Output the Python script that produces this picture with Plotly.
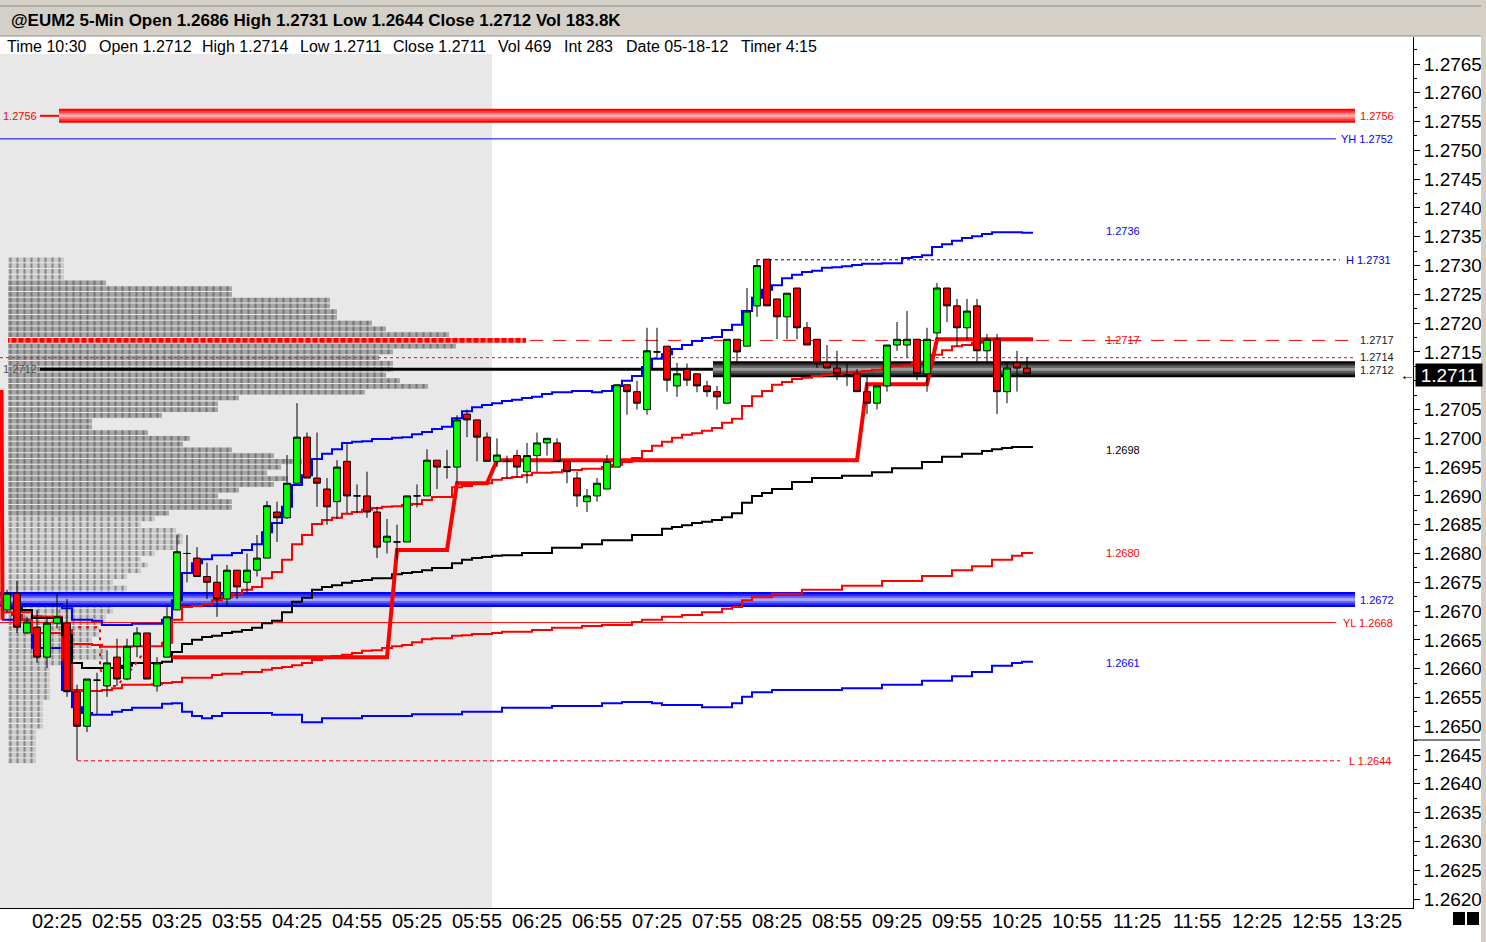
import datetime as dt

import plotly.graph_objects as go

# 5-min bars of @EUM2, 2012-05-18, first bar at 02:00
SESSION_START = dt.datetime(2012, 5, 18, 2, 0)
BAR_MIN = 5

opens = [1.26702, 1.26731, 1.26662, 1.26672, 1.26620, 1.26679, 1.26679, 1.26560, 1.26500, 1.26580,
         1.26570, 1.26620, 1.26582, 1.26639, 1.26662, 1.26570, 1.26620, 1.26702, 1.26800, 1.26792,
         1.26760, 1.26750, 1.26721, 1.26771, 1.26750, 1.26771, 1.26792, 1.26872, 1.26862, 1.26922,
         1.27002, 1.26931, 1.26912, 1.26890, 1.26960, 1.26900, 1.26900, 1.26872, 1.26820, 1.26820,
         1.26820, 1.26900, 1.26900, 1.26962, 1.26950, 1.26950, 1.27042, 1.27032, 1.27002, 1.26960,
         1.26960, 1.26970, 1.26942, 1.26970, 1.26992, 1.26992, 1.26960, 1.26931, 1.26890, 1.26900,
         1.26912, 1.26950, 1.27093, 1.27081, 1.27050, 1.27150, 1.27160, 1.27091, 1.27120, 1.27112,
         1.27091, 1.27081, 1.27061, 1.27172, 1.27160, 1.27230, 1.27311, 1.27242, 1.27211, 1.27261,
         1.27192, 1.27172, 1.27131, 1.27122, 1.27110, 1.27112, 1.27081, 1.27061, 1.27091, 1.27162,
         1.27162, 1.27172, 1.27112, 1.27183, 1.27261, 1.27230, 1.27192, 1.27230, 1.27152, 1.27172,
         1.27081, 1.27131, 1.27122]
highs = [1.26737, 1.26752, 1.26690, 1.26702, 1.26690, 1.26731, 1.26721, 1.26572, 1.26582, 1.26593,
         1.26632, 1.26652, 1.26652, 1.26672, 1.26662, 1.26620, 1.26711, 1.26832, 1.26832, 1.26811,
         1.26784, 1.26780, 1.26780, 1.26771, 1.26800, 1.26832, 1.26891, 1.26890, 1.26971, 1.27061,
         1.27010, 1.27010, 1.26931, 1.26962, 1.26992, 1.26920, 1.26942, 1.26881, 1.26860, 1.26850,
         1.26900, 1.26920, 1.26981, 1.26962, 1.26980, 1.27040, 1.27050, 1.27032, 1.27010, 1.27000,
         1.26970, 1.26980, 1.26992, 1.27010, 1.27000, 1.27000, 1.26960, 1.26942, 1.26912, 1.26931,
         1.26971, 1.27093, 1.27093, 1.27100, 1.27192, 1.27192, 1.27160, 1.27131, 1.27130, 1.27112,
         1.27100, 1.27091, 1.27172, 1.27172, 1.27261, 1.27311, 1.27311, 1.27242, 1.27252, 1.27261,
         1.27202, 1.27172, 1.27162, 1.27152, 1.27130, 1.27120, 1.27110, 1.27091, 1.27162, 1.27202,
         1.27221, 1.27172, 1.27192, 1.27270, 1.27261, 1.27242, 1.27242, 1.27242, 1.27181, 1.27181,
         1.27131, 1.27152, 1.27141]
lows = [1.26698, 1.26662, 1.26660, 1.26610, 1.26601, 1.26670, 1.26551, 1.26441, 1.26490, 1.26520,
        1.26551, 1.26570, 1.26580, 1.26620, 1.26582, 1.26560, 1.26620, 1.26702, 1.26750, 1.26760,
        1.26721, 1.26690, 1.26710, 1.26721, 1.26730, 1.26760, 1.26792, 1.26820, 1.26860, 1.26922,
        1.26931, 1.26881, 1.26850, 1.26860, 1.26870, 1.26870, 1.26862, 1.26792, 1.26800, 1.26790,
        1.26820, 1.26880, 1.26900, 1.26912, 1.26930, 1.26922, 1.27002, 1.26960, 1.26960, 1.26950,
        1.26930, 1.26932, 1.26922, 1.26942, 1.26970, 1.26960, 1.26922, 1.26881, 1.26872, 1.26890,
        1.26912, 1.26950, 1.27041, 1.27050, 1.27041, 1.27140, 1.27081, 1.27072, 1.27091, 1.27080,
        1.27072, 1.27050, 1.27061, 1.27132, 1.27160, 1.27211, 1.27230, 1.27172, 1.27172, 1.27172,
        1.27162, 1.27122, 1.27122, 1.27101, 1.27091, 1.27081, 1.27042, 1.27050, 1.27081, 1.27152,
        1.27141, 1.27101, 1.27081, 1.27172, 1.27202, 1.27160, 1.27172, 1.27131, 1.27131, 1.27042,
        1.27061, 1.27081, 1.27112]
closes = [1.26731, 1.26672, 1.26681, 1.26620, 1.26679, 1.26690, 1.26560, 1.26500, 1.26582, 1.26580,
          1.26610, 1.26582, 1.26639, 1.26662, 1.26582, 1.26610, 1.26690, 1.26803, 1.26800, 1.26760,
          1.26750, 1.26721, 1.26771, 1.26742, 1.26771, 1.26792, 1.26883, 1.26862, 1.26922, 1.27002,
          1.26931, 1.26922, 1.26881, 1.26950, 1.26900, 1.26900, 1.26872, 1.26811, 1.26830, 1.26820,
          1.26900, 1.26900, 1.26962, 1.26950, 1.26950, 1.27032, 1.27032, 1.27002, 1.26960, 1.26971,
          1.26960, 1.26950, 1.26970, 1.26992, 1.27000, 1.26960, 1.26942, 1.26900, 1.26900, 1.26922,
          1.26960, 1.27093, 1.27081, 1.27061, 1.27152, 1.27150, 1.27101, 1.27112, 1.27101, 1.27091,
          1.27081, 1.27072, 1.27172, 1.27150, 1.27221, 1.27300, 1.27230, 1.27211, 1.27252, 1.27192,
          1.27162, 1.27131, 1.27122, 1.27112, 1.27110, 1.27081, 1.27061, 1.27091, 1.27162, 1.27172,
          1.27172, 1.27112, 1.27172, 1.27261, 1.27230, 1.27192, 1.27221, 1.27152, 1.27172, 1.27081,
          1.27122, 1.27122, 1.27112]

# VWAP and its deviation bands (bar index where the step changes, value)
upper2_bars = [0, 2, 6, 7, 9, 10, 13, 16, 17, 18, 19, 20, 21, 23, 24, 25, 26, 27, 28, 29,
               30, 31, 32, 33, 34, 35, 36, 37, 39, 40, 41, 42, 43, 44, 45, 46, 47, 48, 49, 50,
               51, 52, 53, 54, 55, 57, 59, 60, 61, 62, 63, 64, 65, 66, 67, 68, 69, 70, 71, 72,
               73, 74, 75, 76, 77, 78, 79, 80, 81, 82, 83, 84, 85, 86, 88, 90, 91, 92, 93, 94,
               95, 96, 97, 98, 99, 102]
upper2_vals = [1.26709, 1.26712, 1.26705, 1.26685, 1.26683, 1.26676, 1.26678, 1.26685, 1.26719, 1.26766,
               1.26783, 1.26790, 1.26797, 1.26801, 1.26806, 1.26816, 1.26837, 1.26853, 1.26881, 1.26919,
               1.26936, 1.26964, 1.26973, 1.26981, 1.26992, 1.26994, 1.26995, 1.26999, 1.27001, 1.27002,
               1.27007, 1.27011, 1.27016, 1.27020, 1.27035, 1.27047, 1.27054, 1.27058, 1.27061, 1.27065,
               1.27067, 1.27070, 1.27072, 1.27077, 1.27080, 1.27082, 1.27080, 1.27082, 1.27091, 1.27100,
               1.27108, 1.27124, 1.27138, 1.27146, 1.27155, 1.27162, 1.27169, 1.27174, 1.27176, 1.27188,
               1.27197, 1.27221, 1.27244, 1.27258, 1.27266, 1.27278, 1.27284, 1.27289, 1.27291, 1.27296,
               1.27297, 1.27299, 1.27301, 1.27303, 1.27304, 1.27313, 1.27315, 1.27318, 1.27332, 1.27337,
               1.27343, 1.27348, 1.27351, 1.27355, 1.27358, 1.27357]

upper1_bars = [0, 2, 3, 4, 6, 7, 9, 10, 13, 16, 17, 18, 19, 20, 21, 22, 23, 24, 25, 26,
               27, 28, 29, 30, 31, 32, 33, 34, 35, 36, 37, 38, 39, 40, 41, 42, 43, 45, 46, 47,
               49, 50, 51, 52, 53, 55, 56, 58, 60, 61, 62, 63, 64, 65, 66, 67, 68, 69, 70, 71,
               72, 73, 74, 75, 76, 77, 78, 79, 80, 81, 82, 83, 84, 85, 86, 87, 88, 89, 90, 91,
               92, 93, 94, 95, 96, 97, 98, 99]
upper1_vals = [1.26705, 1.26698, 1.26691, 1.26690, 1.26667, 1.26643, 1.26641, 1.26638, 1.26639, 1.26645,
               1.26685, 1.26707, 1.26709, 1.26712, 1.26719, 1.26724, 1.26730, 1.26737, 1.26742, 1.26757,
               1.26768, 1.26789, 1.26816, 1.26832, 1.26851, 1.26858, 1.26862, 1.26869, 1.26872, 1.26876,
               1.26879, 1.26881, 1.26882, 1.26884, 1.26886, 1.26893, 1.26898, 1.26915, 1.26917, 1.26922,
               1.26928, 1.26931, 1.26933, 1.26936, 1.26940, 1.26941, 1.26945, 1.26947, 1.26950, 1.26954,
               1.26959, 1.26966, 1.26978, 1.26987, 1.26994, 1.27001, 1.27006, 1.27009, 1.27013, 1.27018,
               1.27027, 1.27034, 1.27056, 1.27073, 1.27082, 1.27093, 1.27098, 1.27103, 1.27105, 1.27108,
               1.27110, 1.27112, 1.27113, 1.27115, 1.27117, 1.27119, 1.27124, 1.27126, 1.27127, 1.27131,
               1.27133, 1.27145, 1.27153, 1.27160, 1.27162, 1.27166, 1.27171, 1.27172]

vwap_bars = [0, 2, 3, 6, 7, 8, 12, 13, 16, 17, 18, 19, 20, 21, 22, 23, 24, 25, 26, 27,
             28, 29, 30, 31, 32, 33, 34, 35, 36, 37, 39, 40, 41, 42, 43, 45, 46, 47, 48, 49,
             50, 52, 55, 58, 60, 63, 66, 67, 68, 69, 70, 71, 72, 73, 74, 75, 76, 77, 79, 81,
             84, 87, 89, 92, 94, 96, 98, 99, 100, 101]
vwap_vals = [1.26705, 1.26702, 1.26688, 1.26658, 1.26610, 1.26601, 1.26605, 1.26610, 1.26612, 1.26629,
             1.26643, 1.26650, 1.26655, 1.26657, 1.26662, 1.26664, 1.26667, 1.26671, 1.26679, 1.26683,
             1.26698, 1.26716, 1.26723, 1.26737, 1.26742, 1.26745, 1.26749, 1.26752, 1.26754, 1.26757,
             1.26764, 1.26766, 1.26768, 1.26771, 1.26775, 1.26783, 1.26789, 1.26792, 1.26794, 1.26796,
             1.26797, 1.26801, 1.26810, 1.26816, 1.26823, 1.26832, 1.26843, 1.26846, 1.26849, 1.26853,
             1.26855, 1.26858, 1.26863, 1.26870, 1.26888, 1.26900, 1.26905, 1.26912, 1.26924, 1.26931,
             1.26935, 1.26941, 1.26948, 1.26959, 1.26968, 1.26973, 1.26978, 1.26981, 1.26983, 1.26985]

lower1_bars = [0, 1, 2, 3, 6, 7, 8, 10, 11, 12, 15, 16, 17, 18, 21, 22, 24, 26, 27, 28,
               29, 30, 31, 32, 33, 34, 35, 36, 37, 38, 39, 40, 41, 42, 43, 45, 46, 47, 49, 50,
               53, 55, 58, 60, 63, 64, 66, 68, 70, 72, 73, 74, 75, 77, 80, 84, 88, 92, 95, 97,
               99, 101, 102]
lower1_vals = [1.26698, 1.26693, 1.26685, 1.26662, 1.26615, 1.26563, 1.26561, 1.26563, 1.26566, 1.26572,
               1.26573, 1.26575, 1.26577, 1.26584, 1.26589, 1.26591, 1.26594, 1.26598, 1.26601, 1.26603,
               1.26606, 1.26610, 1.26615, 1.26619, 1.26622, 1.26624, 1.26627, 1.26631, 1.26632, 1.26636,
               1.26639, 1.26641, 1.26646, 1.26651, 1.26653, 1.26657, 1.26658, 1.26660, 1.26662, 1.26664,
               1.26667, 1.26671, 1.26674, 1.26676, 1.26681, 1.26685, 1.26690, 1.26693, 1.26698, 1.26704,
               1.26707, 1.26719, 1.26724, 1.26730, 1.26737, 1.26744, 1.26752, 1.26761, 1.26771, 1.26778,
               1.26789, 1.26796, 1.26801]

lower2_bars = [0, 3, 6, 7, 8, 9, 11, 12, 13, 16, 17, 18, 19, 20, 21, 22, 27, 30, 32, 36,
               41, 46, 50, 55, 60, 62, 65, 66, 70, 73, 74, 75, 77, 84, 88, 92, 95, 97, 99, 101,
               102]
lower2_vals = [1.26685, 1.26636, 1.26563, 1.26533, 1.26523, 1.26520, 1.26525, 1.26528, 1.26532, 1.26539,
               1.26540, 1.26525, 1.26518, 1.26514, 1.26518, 1.26523, 1.26520, 1.26507, 1.26514, 1.26518,
               1.26521, 1.26525, 1.26532, 1.26535, 1.26540, 1.26542, 1.26540, 1.26537, 1.26533, 1.26540,
               1.26551, 1.26559, 1.26563, 1.26566, 1.26572, 1.26579, 1.26587, 1.26594, 1.26605, 1.26610,
               1.26612]

# thick red trailing stop (None = gap)
trail_bars = [-0.55, -0.45, None, 16.5, 38, 39, 44, 45, 48, 49, 85, 86, 92, 93, 102.6]
trail_vals = [1.27084, 1.26685, None, 1.26620, 1.26620, 1.26806, 1.26806, 1.26922, 1.26922,
              1.26962, 1.26962, 1.27094, 1.27094, 1.27172, 1.27172]

# early dotted red projection
dotted_bars = [7.1, 9.3, 9.3, 10.0, 11.0, 12.5, 13.5, 14.5]
dotted_vals = [1.26672, 1.26672, 1.26601, 1.26570, 1.26570, 1.26600, 1.26624, 1.26624]

# volume profile: one row per pip from 1.2731 down to 1.2644 (row length in cells)
profile_top = 1.2731
profile_cells = [8, 8, 8, 8, 14, 32, 32, 46, 46, 47,
                 47, 52, 54, 63, 74, 64, 55, 53, 55, 55,
                 54, 56, 60, 51, 33, 30, 30, 22, 12, 12,
                 20, 26, 25, 32, 38, 42, 39, 37, 40, 38,
                 33, 30, 32, 32, 23, 21, 19, 24, 25, 25,
                 24, 21, 19, 20, 19, 17, 15, 17, 17, 15,
                 15, 15, 14, 14, 13, 13, 12, 12, 14, 14,
                 8, 6, 6, 6, 6, 6, 6, 5, 5, 5,
                 5, 5, 4, 4, 4, 4, 4, 4]
va_high, va_low, poc = 1.2727, 1.2687, 1.2717

# horizontal levels
r_level = 1.2756
yest_high = 1.2752
day_high = 1.2731
level_1714 = 1.2714
level_1712 = 1.2712
s_level = 1.2672
yest_low = 1.2668
day_low = 1.2644
last_price = 1.2711
band_end_labels = [(1.2736, "#0000ff"), (1.2717, "#ff0000"), (1.2698, "#000000"),
                   (1.2680, "#ff0000"), (1.2661, "#0000ff")]

price_ticks = [1.2620, 1.2625, 1.2630, 1.2635, 1.2640, 1.2645, 1.2650, 1.2655, 1.2660, 1.2665,
               1.2670, 1.2675, 1.2680, 1.2685, 1.2690, 1.2695, 1.2700, 1.2705, 1.2710, 1.2715,
               1.2720, 1.2725, 1.2730, 1.2735, 1.2740, 1.2745, 1.2750, 1.2755, 1.2760, 1.2765]

# page geometry (pixels)
W, H = 1486, 942
PLOT_W, PLOT_TOP, PLOT_BOTTOM = 1413, 37, 908
PLOT_H = PLOT_BOTTOM - PLOT_TOP
SEC_PER_PX = 30  # 10 px per 5-min bar
CELL_PX = 7
FONT = "Liberation Sans, Arial, sans-serif"
SHADE = "#e8e8e8"
Y_RANGE = [1.2620 - 9 * 0.0145 / 835, 1.2765 + 27 * 0.0145 / 835]


def bar_time(b):
    if b is None:
        return None
    return SESSION_START + dt.timedelta(minutes=BAR_MIN * b)


def px_time(px):
    # bar centres sit at x = 7 + 10 * i on the page
    return bar_time((px - 7) / 10)


def pxx(px):
    return px / PLOT_W


def pxy(py):
    return (PLOT_BOTTOM - py) / PLOT_H


times = [bar_time(i) for i in range(len(opens))]
last_bar = len(opens) - 1

fig = go.Figure()

# volume profile rows made of small cells, drawn as horizontal bars on the time axis
profile_prices = [round(profile_top - 0.0001 * k, 4) for k in range(len(profile_cells))]
row_colors = []
for p in profile_prices:
    if abs(p - poc) < 1e-6:
        row_colors.append("#ff0000")
    elif va_low - 1e-6 <= p <= va_high + 1e-6:
        row_colors.append("#a6a6a6")
    else:
        row_colors.append("#cbcbcb")
fig.add_trace(go.Bar(
    x=[c * CELL_PX * SEC_PER_PX * 1000 for c in profile_cells], y=profile_prices,
    base=[px_time(8)] * len(profile_cells), orientation="h",
    width=0.000082,
    marker=dict(color=row_colors, line=dict(width=0),
                pattern=dict(shape="|", fillmode="overlay", fgcolor=SHADE, size=CELL_PX,
                             solidity=0.3)),
    hoverinfo="skip", showlegend=False,
))


def hline(level, px0, px1, color, width, dash=None):
    fig.add_trace(go.Scatter(
        x=[px_time(px0), px_time(px1)], y=[level, level], mode="lines",
        line=dict(color=color, width=width, dash=dash),
        hoverinfo="skip", showlegend=False,
    ))


def band(level, px0, px1, layers):
    for color, width in layers:
        hline(level, px0, px1, color, width)


band(s_level, 0, 1355, [("#0000ff", 15), ("#2a2aff", 11), ("#6262ff", 7), ("#a4a4ff", 3)])
band(r_level, 59, 1355, [("#ff0000", 14), ("#ff3c3c", 10), ("#ff7c7c", 6), ("#ffb4b4", 2)])
hline(r_level, 40, 59, "#ff0000", 2)
hline(yest_high, 0, 1336, "#0000ff", 1)
hline(yest_low, 0, 1336, "#ff0000", 1)
hline(day_high, 757, 1340, "#0000c0", 1, "3px,3px")
hline(day_low, 77, 1340, "#ff0000", 1, "4px,3px")
hline(poc, 530, 1355, "#ff0000", 1, "13px,10px")
hline(level_1714, 0, 1355, "#ff0000", 1, "3px,3px")
hline(level_1712, 40, 713, "#000000", 3)
band(level_1712, 713, 1355, [("#000000", 16), ("#2c2c2c", 12), ("#5e5e5e", 8), ("#9c9c9c", 3)])


def step_line(bars, vals, color, width):
    assert len(bars) == len(vals)
    xs = [bar_time(b - 0.5) for b in bars] + [bar_time(last_bar + 0.6)]
    ys = list(vals) + [vals[-1]]
    fig.add_trace(go.Scatter(
        x=xs, y=ys, mode="lines", line=dict(color=color, width=width, shape="hv"),
        hoverinfo="skip", showlegend=False,
    ))


step_line(lower2_bars, lower2_vals, "#0000ff", 2)
step_line(upper2_bars, upper2_vals, "#0000ff", 2)
step_line(lower1_bars, lower1_vals, "#ff0000", 2)
step_line(upper1_bars, upper1_vals, "#ff0000", 2)
step_line(vwap_bars, vwap_vals, "#000000", 2)

fig.add_trace(go.Scatter(
    x=[bar_time(b) for b in dotted_bars], y=dotted_vals, mode="lines",
    line=dict(color="#ff0000", width=2, dash="3px,5px"), hoverinfo="skip", showlegend=False,
))
fig.add_trace(go.Scatter(
    x=[bar_time(b) for b in trail_bars], y=trail_vals, mode="lines",
    line=dict(color="#ff0000", width=4), connectgaps=False, hoverinfo="skip", showlegend=False,
))

# candles sit on an overlaid copy of the price axis so they are drawn above the lines
fig.add_trace(go.Candlestick(
    x=times, open=opens, high=highs, low=lows, close=closes, yaxis="y2",
    increasing=dict(fillcolor="#00ff00", line=dict(color="#000000", width=1)),
    decreasing=dict(fillcolor="#ff0000", line=dict(color="#000000", width=1)),
    whiskerwidth=0, hoverinfo="skip", showlegend=False,
))

# ---- frame pieces: title bar, session shading, window edge ----
shapes = [
    dict(type="rect", xref="paper", yref="paper", x0=pxx(0), x1=pxx(492), y0=pxy(908), y1=pxy(54),
         fillcolor=SHADE, line=dict(width=0), layer="below"),
    dict(type="rect", xref="paper", yref="paper", x0=pxx(0), x1=pxx(1481), y0=pxy(36), y1=pxy(0),
         fillcolor="#d4d0c8", line=dict(width=0)),
    dict(type="line", xref="paper", yref="paper", x0=pxx(0), x1=pxx(1481), y0=pxy(6), y1=pxy(6),
         line=dict(color="#8a8a8a", width=1)),
    dict(type="line", xref="paper", yref="paper", x0=pxx(0), x1=pxx(1481), y0=pxy(36), y1=pxy(36),
         line=dict(color="#8a8a8a", width=1)),
    dict(type="rect", xref="paper", yref="paper", x0=pxx(1481), x1=pxx(1486), y0=pxy(942), y1=pxy(0),
         fillcolor="#d4d0c8", line=dict(width=0)),
    dict(type="line", xref="paper", yref="paper", x0=pxx(1413), x1=pxx(1480), y0=pxy(740), y1=pxy(740),
         line=dict(color="#000000", width=1)),
    dict(type="rect", xref="paper", yref="paper", x0=pxx(1453), x1=pxx(1465), y0=pxy(925), y1=pxy(912),
         fillcolor="#000000", line=dict(width=0)),
    dict(type="rect", xref="paper", yref="paper", x0=pxx(1467), x1=pxx(1479), y0=pxy(925), y1=pxy(912),
         fillcolor="#000000", line=dict(width=0)),
]

annotations = []


def label(text, px, y, color, anchor="left", size=11, yref="y", **kw):
    annotations.append(dict(
        text=text, x=pxx(px), xref="paper", y=y, yref=yref, xanchor=anchor, yanchor="middle",
        showarrow=False, font=dict(family=FONT, size=size, color=color), **kw,
    ))


label("<b>@EUM2 5-Min Open 1.2686 High 1.2731 Low 1.2644 Close 1.2712 Vol 183.8K</b>",
      9, pxy(21), "#000000", size=17, yref="paper")
info_items = [("Time 10:30", 5), ("Open 1.2712", 97), ("High 1.2714", 200), ("Low 1.2711", 298),
              ("Close 1.2711", 391), ("Vol 469", 496), ("Int 283", 562), ("Date 05-18-12", 624),
              ("Timer 4:15", 739)]
for text, px in info_items:
    label(text, px, pxy(46), "#000000", size=16, yref="paper")

# level tags
label(f"{r_level:.4f}", 1358, r_level, "#ff0000")
label(f"{r_level:.4f}", 1, r_level, "#ff0000")
label(f"YH {yest_high:.4f}", 1395, yest_high, "#0000ff", anchor="right")
label(f"H {day_high:.4f}", 1393, day_high, "#0000c0", anchor="right")
label(f"{poc:.4f}", 1358, poc, "#202020")
label(f"{level_1714:.4f}", 1358, level_1714 + 0.00001, "#202020")
label(f"{level_1712:.4f}", 1358, level_1712 - 0.00001, "#202020")
label(f"{level_1712:.4f}", 1, level_1712, "#505050")
label(f"{s_level:.4f}", 1358, s_level, "#0000ff")
label(f"YL {yest_low:.4f}", 1395, yest_low, "#ff0000", anchor="right")
label(f"L {day_low:.4f}", 1393, day_low, "#ff0000", anchor="right")
for value, color in band_end_labels:
    label(f"{value:.4f}", 1104, value, color)

# last price tag on the axis; the tick label it covers is left blank
label(f"{last_price:.4f}", 1415, last_price, "#ffffff", size=19, bgcolor="#000000",
      borderpad=0, width=66, height=22, align="center")
label("\u2190", 1398, last_price, "#000000", size=15)
tick_text = ["" if abs(v - last_price) < 0.0002 else f"{v:.4f}" for v in price_ticks]

fig.update_layout(
    width=W, height=H,
    margin=dict(l=0, r=W - PLOT_W, t=PLOT_TOP, b=H - PLOT_BOTTOM, pad=0),
    paper_bgcolor="#ffffff", plot_bgcolor="#ffffff",
    font=dict(family=FONT, color="#000000"),
    showlegend=False, boxgap=0.32, boxgroupgap=0.0,
    shapes=shapes, annotations=annotations,
    xaxis=dict(
        type="date",
        range=[px_time(0), px_time(PLOT_W)],
        tickmode="linear", tick0=dt.datetime(2012, 5, 18, 2, 25), dtick=30 * 60 * 1000,
        tickformat="%H:%M", tickfont=dict(size=20, color="#000000"),
        showgrid=False, zeroline=False, showline=True, linecolor="#000000", linewidth=1,
        ticks="", ticklen=0, ticklabelstandoff=-5,
        rangeslider=dict(visible=False), fixedrange=True,
    ),
    yaxis=dict(
        side="right", range=Y_RANGE,
        tickmode="array", tickvals=price_ticks, ticktext=tick_text,
        tickfont=dict(size=19, color="#000000"),
        ticks="outside", ticklen=6, tickcolor="#000000",
        minor=dict(tickvals=[v + 0.00025 for v in price_ticks], ticks="outside", ticklen=3,
                   tickcolor="#000000"),
        showgrid=False, zeroline=False, showline=True, linecolor="#000000", linewidth=1,
        fixedrange=True,
    ),
    yaxis2=dict(overlaying="y", range=Y_RANGE, visible=False, fixedrange=True),
)

# the page's default body margin would shift the chart; remove it
fig.write_html("out.html", config={"displayModeBar": False},
               post_script="document.body.style.margin='0';document.body.style.overflow='hidden';")
